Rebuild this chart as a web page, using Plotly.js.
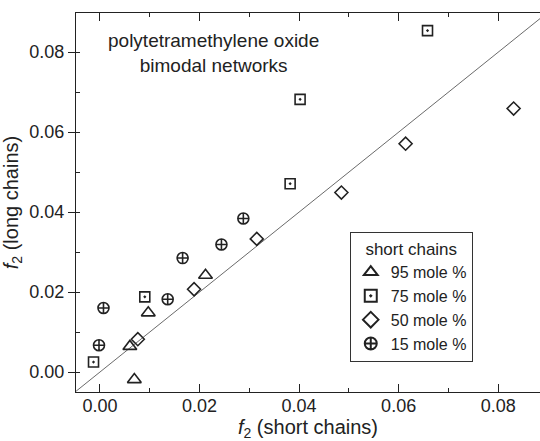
<!DOCTYPE html>
<html>
<head>
<meta charset="utf-8">
<script src="https://cdn.plot.ly/plotly-3.0.1.min.js"></script>
<style>html,body{margin:0;padding:0;background:#fff;}#chart{width:540px;height:441px;}</style>
</head>
<body>
<div id="chart"></div>
<script>
// Data (f2 short chains, f2 long chains)
const tri95_x = [0.0069, 0.0060, 0.0097, 0.0212];
const tri95_y = [-0.0019, 0.0064, 0.0148, 0.0242];
const sq75_x = [-0.0013, 0.0090, 0.0382, 0.0402, 0.0658];
const sq75_y = [0.0025, 0.0188, 0.0471, 0.0682, 0.0854];
const dia50_x = [0.0076, 0.0189, 0.0315, 0.0485, 0.0614, 0.0831];
const dia50_y = [0.0082, 0.0207, 0.0333, 0.0449, 0.0571, 0.0659];
const cir15_x = [-0.0002, 0.0007, 0.0136, 0.0166, 0.0244, 0.0288];
const cir15_y = [0.0067, 0.0160, 0.0182, 0.0285, 0.0319, 0.0384];
const seriesNames = ["95 mole %", "75 mole %", "50 mole %", "15 mole %"];
const diagX = [-0.0048, 0.0884];
const diagY = [-0.0048, 0.0884];

const xRange = [-0.00482, 0.0884];
const yRange = [-0.005, 0.0898];

const font = "Liberation Sans, Arial, Helvetica, sans-serif";
const ink = "#222";
const mk = (sym, size) => ({symbol: sym, size: size, color: ink, line: {color: ink, width: 1.6}});

const traces = [
  {x: diagX, y: diagY, mode: "lines", line: {color: "#444", width: 0.8}, showlegend: false, hoverinfo: "skip"},
  {x: tri95_x, y: tri95_y, mode: "markers", name: seriesNames[0], marker: mk("triangle-up-open", 12)},
  {x: sq75_x, y: sq75_y, mode: "markers", name: seriesNames[1], marker: mk("square-open-dot", 10)},
  {x: dia50_x, y: dia50_y, mode: "markers", name: seriesNames[2], marker: mk("diamond-open", 10)},
  {x: cir15_x, y: cir15_y, mode: "markers", name: seriesNames[3], marker: mk("circle-cross-open", 11)}
];

const layout = {
  width: 540, height: 441,
  margin: {l: 76, r: 0, t: 13, b: 49},
  paper_bgcolor: "#fff", plot_bgcolor: "#fff",
  font: {family: font, size: 18, color: ink},
  showlegend: true,
  legend: {
    x: 0.59, y: 0.422, xanchor: "left", yanchor: "top",
    bordercolor: "#333", borderwidth: 1, bgcolor: "#fff",
    font: {family: font, size: 16, color: ink},
    title: {text: "short chains", side: "top center", font: {family: font, size: 17, color: ink}},
    tracegroupgap: 0, itemsizing: "constant"
  },
  xaxis: {
    range: xRange, dtick: 0.02, tick0: 0, tickformat: ".2f",
    ticks: "inside", ticklen: 8, tickwidth: 1, tickcolor: "#222",
    minor: {dtick: 0.01, tick0: 0, ticks: "inside", ticklen: 4, tickcolor: "#222", showgrid: false},
    showline: true, linecolor: "#222", linewidth: 1.2, mirror: "ticks",
    showgrid: false, zeroline: false, ticklabelstandoff: -3,
    tickfont: {family: font, size: 18, color: ink},
    title: {text: "<i>f</i><sub>2</sub> (short chains)", font: {family: font, size: 20, color: ink}, standoff: 6}
  },
  yaxis: {
    range: yRange, dtick: 0.02, tick0: 0, tickformat: ".2f",
    ticks: "outside", ticklen: 7, tickwidth: 1, tickcolor: "#222",
    minor: {dtick: 0.01, tick0: 0, ticks: "inside", ticklen: 4, tickcolor: "#222", showgrid: false},
    showline: true, linecolor: "#222", linewidth: 1.2, mirror: false,
    showgrid: false, zeroline: false,
    tickfont: {family: font, size: 18, color: ink},
    title: {text: "<i>f</i><sub>2</sub> (long chains)", font: {family: font, size: 20, color: ink}, standoff: 6}
  },
  annotations: [{
    xref: "paper", yref: "paper", x: 0.297, y: 0.894, xanchor: "center", yanchor: "middle",
    text: "polytetramethylene oxide<br>bimodal networks", showarrow: false, align: "center",
    font: {family: font, size: 19, color: ink}
  }]
};

Plotly.newPlot("chart", traces, layout, {displayModeBar: false, staticPlot: true});
</script>
</body>
</html>
